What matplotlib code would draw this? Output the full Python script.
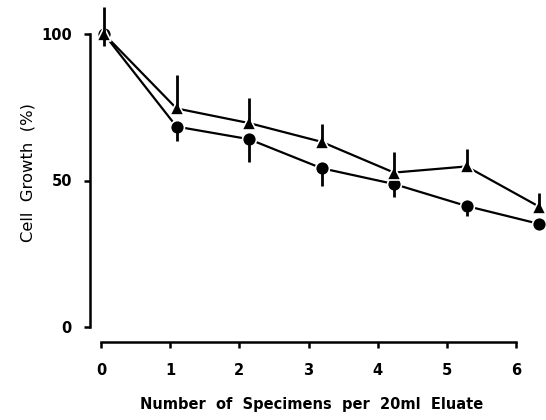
import matplotlib
matplotlib.use("Agg")
import matplotlib.pyplot as plt

# specimens per 20 ml eluate
specimens = [0, 1, 2, 3, 4, 5, 6]

# triangle series, error drawn upward
tri_growth = [100, 74.6, 69.6, 63.2, 52.7, 54.8, 41.1]
tri_err_up = [9.3, 11.4, 8.4, 6.2, 6.9, 6.1, 4.6]

# circle series, error drawn downward
circ_growth = [100, 68.4, 64.1, 54.2, 48.8, 41.3, 35.2]
circ_err_down = [4.2, 5.0, 7.9, 6.2, 4.3, 3.5, 0]

y_ticks = [0, 50, 100]
x_ticks = [0, 1, 2, 3, 4, 5, 6]

plt.rcParams['font.family'] = ['DejaVu Sans']

W, H = 546, 420
fig = plt.figure(figsize=(W / 100, H / 100), dpi=100)

# axes box in pixels: left 90, right 546, top 0, bottom 342
ax = fig.add_axes([90 / W, (H - 342) / H, (546 - 90) / W, 342 / H])
ax.set_xlim((90 - 104) / 72.5, (546 - 104) / 72.5)
ax.set_ylim(-(342 - 327) / 2.93, 327 / 2.93)

zero = [0] * len(specimens)
ax.plot(specimens, circ_growth, color='black', lw=1.6, marker='o', ms=10,
        mec='white', mew=1.2, zorder=3)
ax.plot(specimens, tri_growth, color='black', lw=1.6, marker='^', ms=10.5,
        mec='white', mew=1.2, zorder=3)
ax.errorbar(specimens, tri_growth, yerr=[zero, tri_err_up], fmt='none',
            ecolor='black', elinewidth=2.0, capsize=0, zorder=4)
ax.errorbar(specimens, circ_growth, yerr=[circ_err_down, zero], fmt='none',
            ecolor='black', elinewidth=2.0, capsize=0, zorder=4)

for s in ['top', 'right', 'bottom']:
    ax.spines[s].set_visible(False)
ax.spines['left'].set_bounds(0, 100)
ax.spines['left'].set_linewidth(1.8)
ax.set_yticks(y_ticks)
ax.set_yticklabels([str(v) for v in y_ticks], fontweight='bold', fontsize=10.5)
ax.tick_params(axis='y', length=4, width=1.8, pad=9)
ax.set_xticks([])

# x axis drawn on its own scale (as in the original print)
ax2 = ax.twiny()
ax2.set_xlim((90 - 101) / 69.2, (546 - 101) / 69.2)
for s in ['top', 'right', 'left']:
    ax2.spines[s].set_visible(False)
ax2.spines['bottom'].set_visible(True)
ax2.spines['bottom'].set_bounds(0, 6)
ax2.spines['bottom'].set_linewidth(1.8)
ax2.xaxis.set_ticks_position('bottom')
ax2.xaxis.set_label_position('bottom')
ax2.set_xticks(x_ticks)
ax2.set_xticklabels([str(v) for v in x_ticks], fontweight='bold', fontsize=10.5)
ax2.tick_params(axis='x', length=4, width=1.8, pad=11)

fig.text(312 / W, 1 - 405 / H, 'Number  of  Specimens  per  20ml  Eluate',
         ha='center', va='center', fontweight='bold', fontsize=10.5)
fig.text(28 / W, 1 - 172 / H, 'Cell  Growth  (%)', rotation=90,
         ha='center', va='center', fontsize=11.8)

fig.savefig('out.png', dpi=100)
